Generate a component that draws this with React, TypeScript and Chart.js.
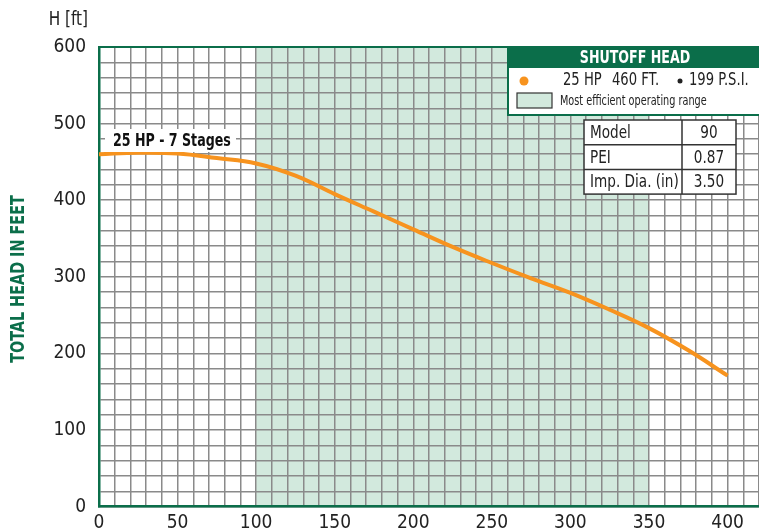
import React, { useEffect, useRef } from "react";
import { Chart, registerables } from "chart.js";

Chart.register(...registerables);

const flowGpm = [0, 25, 50, 75, 100, 125, 150, 175, 200, 225, 250, 275, 300, 325, 350, 375, 400];
const headFt = [460, 462, 461, 455, 448, 432, 408, 385, 362, 339, 318, 298, 279, 257, 233, 204, 171];
const xTickLabels = [0, 50, 100, 150, 200, 250, 300, 350, 400];
const yTickLabels = [0, 100, 200, 300, 400, 500, 600];
const efficientRange = [100, 350];
const tableRows = [
  ["Model", "90"],
  ["PEI", "0.87"],
  ["Imp. Dia. (in)", "3.50"],
];
const curveLabel = "25 HP - 7 Stages";
const shutoffHp = "25 HP";
const shutoffFt = "460 FT.";
const shutoffPsi = "199 P.S.I.";

const FONT = '"DejaVu Sans Condensed", "Liberation Sans", sans-serif';
const GREEN = "#0b6e4a";
const SHADE = "#d2e9dd";
const ORANGE = "#f7931e";

function txt(ctx: any, s: string, x: number, y: number, font: string, color: string, align: string, sx = 0.8) {
  ctx.save();
  ctx.translate(x, y);
  ctx.scale(sx, 1);
  ctx.font = font;
  ctx.fillStyle = color;
  ctx.textAlign = align;
  ctx.textBaseline = "middle";
  ctx.fillText(s, 0, 0);
  ctx.restore();
}

function keepLabels(list: number[]) {
  return (s: any) => {
    s.ticks.forEach((t: any) => {
      const v = Math.round(Number(t.value));
      t.label = list.includes(v) ? String(v) : "";
    });
  };
}

const annotations = {
  id: "annotations",
  beforeDraw(chart: any) {
    const { ctx, chartArea, scales } = chart;
    const x = scales.x;
    const x0 = x.getPixelForValue(efficientRange[0]);
    const x1 = x.getPixelForValue(efficientRange[1]);
    ctx.save();
    ctx.fillStyle = SHADE;
    ctx.fillRect(x0, chartArea.top, x1 - x0, chartArea.bottom - chartArea.top);
    ctx.restore();
  },
  afterDraw(chart: any) {
    const { ctx, chartArea } = chart;
    ctx.save();
    ctx.strokeStyle = GREEN;
    ctx.lineWidth = 2;
    ctx.beginPath();
    ctx.moveTo(chartArea.left, chartArea.top);
    ctx.lineTo(chartArea.right + 2, chartArea.top);
    ctx.stroke();

    txt(ctx, "H [ft]", 88, 20, `20px ${FONT}`, "#222", "right", 0.85);

    ctx.save();
    ctx.translate(19, 279);
    ctx.rotate(-Math.PI / 2);
    txt(ctx, "TOTAL HEAD IN FEET", 0, 0, `bold 20px ${FONT}`, GREEN, "center", 0.8);
    ctx.restore();

    ctx.fillStyle = "#fff";
    ctx.fillRect(105, 129, 131, 23);
    txt(ctx, curveLabel, 113, 141, `bold 18px ${FONT}`, "#111", "left", 0.78);

    const bx = 508, by = 47, bw = 260, bh = 68;
    ctx.fillStyle = "#fff";
    ctx.fillRect(bx, by, bw, bh);
    ctx.fillStyle = GREEN;
    ctx.fillRect(bx, by, bw, 21);
    ctx.strokeStyle = GREEN;
    ctx.lineWidth = 2;
    ctx.strokeRect(bx, by, bw, bh);
    txt(ctx, "SHUTOFF HEAD", 635, 58, `bold 18px ${FONT}`, "#fff", "center", 0.78);

    ctx.fillStyle = ORANGE;
    ctx.beginPath();
    ctx.arc(524, 81, 4.5, 0, Math.PI * 2);
    ctx.fill();
    txt(ctx, shutoffHp, 563, 81, `17px ${FONT}`, "#222", "left", 0.86);
    txt(ctx, shutoffFt, 612, 81, `17px ${FONT}`, "#222", "left", 0.86);
    ctx.fillStyle = "#222";
    ctx.beginPath();
    ctx.arc(680, 81, 2.5, 0, Math.PI * 2);
    ctx.fill();
    txt(ctx, shutoffPsi, 689, 81, `17px ${FONT}`, "#222", "left", 0.86);

    ctx.fillStyle = SHADE;
    ctx.fillRect(517, 93, 35, 15);
    ctx.strokeStyle = "#333";
    ctx.lineWidth = 1.2;
    ctx.strokeRect(517, 93, 35, 15);
    txt(ctx, "Most efficient operating range", 560, 101, `14px ${FONT}`, "#222", "left", 0.77);

    const tx = 584, ty = 120, tw = 152, rh = 24.7, cx = 682;
    ctx.fillStyle = "#fff";
    ctx.fillRect(tx, ty, tw, rh * tableRows.length);
    ctx.strokeStyle = "#333";
    ctx.lineWidth = 1.5;
    ctx.strokeRect(tx, ty, tw, rh * tableRows.length);
    ctx.beginPath();
    for (let i = 1; i < tableRows.length; i++) {
      ctx.moveTo(tx, ty + rh * i);
      ctx.lineTo(tx + tw, ty + rh * i);
    }
    ctx.moveTo(cx, ty);
    ctx.lineTo(cx, ty + rh * tableRows.length);
    ctx.stroke();
    tableRows.forEach((r, i) => {
      const yy = ty + rh * i + rh / 2 + 1;
      txt(ctx, r[0], tx + 6, yy, `18px ${FONT}`, "#222", "left", 0.84);
      txt(ctx, r[1], (cx + tx + tw) / 2, yy, `18px ${FONT}`, "#222", "center", 0.84);
    });
    ctx.restore();
  },
};

export default function App() {
  const ref = useRef<HTMLCanvasElement | null>(null);
  useEffect(() => {
    document.body.style.margin = "0";
    if (!ref.current) return;
    const chart = new Chart(ref.current, {
      type: "line",
      data: {
        datasets: [
          {
            data: flowGpm.map((f, i) => ({ x: f, y: headFt[i] })),
            borderColor: ORANGE,
            borderWidth: 4,
            pointRadius: 0,
            tension: 0.4,
            fill: false,
          },
        ],
      },
      options: {
        animation: false,
        responsive: false,
        devicePixelRatio: 1,
        layout: { padding: { top: 47, right: 0, left: 0, bottom: 0 } },
        plugins: { legend: { display: false }, tooltip: { enabled: false } },
        scales: {
          x: {
            type: "linear",
            min: 0,
            max: 420,
            afterTickToLabelConversion: keepLabels(xTickLabels),
            afterFit: (s: any) => { s.height = 23; s.paddingRight = 0; s.paddingLeft = 0; },
            ticks: {
              stepSize: 10,
              autoSkip: false,
              maxRotation: 0,
              padding: 5,
              color: "#222",
              font: { family: FONT, size: 19 },
            },
            grid: { color: "#8a8a8a", lineWidth: 1.5, drawTicks: false },
            border: { display: true, color: GREEN, width: 2.5 },
          },
          y: {
            type: "linear",
            min: 0,
            max: 600,
            afterTickToLabelConversion: keepLabels(yTickLabels),
            afterFit: (s: any) => { s.width = 99; },
            ticks: {
              stepSize: 20,
              autoSkip: false,
              padding: 13,
              color: "#222",
              font: { family: FONT, size: 19 },
            },
            grid: { color: "#8a8a8a", lineWidth: 1.5, drawTicks: false },
            border: { display: true, color: GREEN, width: 2.5 },
          },
        },
      },
      plugins: [annotations],
    } as any);
    return () => chart.destroy();
  }, []);
  return (
    <div style={{ width: 759, height: 531 }}>
      <canvas ref={ref} width={759} height={531} style={{ width: 759, height: 531, display: "block" }} />
    </div>
  );
}
